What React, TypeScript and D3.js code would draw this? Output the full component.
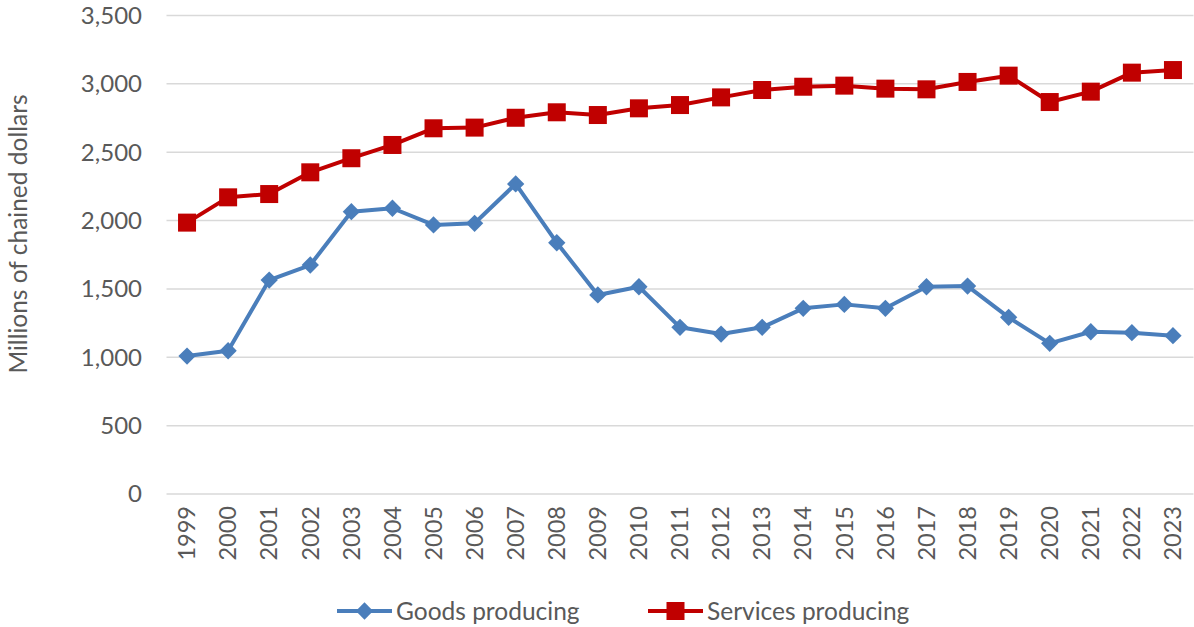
import * as d3 from 'd3';
import React, { useRef, useEffect } from 'react';

const years = ['1999', '2000', '2001', '2002', '2003', '2004', '2005', '2006', '2007', '2008', '2009', '2010',
    '2011', '2012', '2013', '2014', '2015', '2016', '2017', '2018', '2019', '2020', '2021', '2022', '2023'];

const goods = [1009, 1048, 1565, 1675, 2065, 2090, 1968, 1980, 2268, 1838, 1456, 1516,
    1219, 1170, 1219, 1358, 1387, 1358, 1516, 1521, 1292, 1102, 1187, 1180, 1158];

const services = [1985, 2170, 2194, 2353, 2456, 2553, 2675, 2680, 2752, 2792, 2772, 2821,
    2845, 2901, 2955, 2979, 2987, 2965, 2960, 3014, 3060, 2867, 2943, 3082, 3101];

const yTicks = [0, 500, 1000, 1500, 2000, 2500, 3000, 3500];

const seriesNames = ['Goods producing', 'Services producing'];

const FONT = 'Lato, "Open Sans", sans-serif';
const TEXT = '#595959';

function App() {

    const ref = useRef(null);

    useEffect(() => {
        const width = 1194, height = 627;
        const left = 166.5, right = 1193.5, top = 15.5, bottom = 494;

        const container = d3.select(ref.current);
        container.selectAll('*').remove();

        const svg = container.append('svg')
            .attr('width', width)
            .attr('height', height)
            .style('display', 'block')
            .style('font-family', FONT);

        const x = d3.scaleBand()
            .domain(years)
            .range([left, right]);

        const y = d3.scaleLinear()
            .domain([0, 3500])
            .range([bottom, top]);

        // gridlines
        svg.append('g')
            .selectAll('line')
            .data(yTicks)
            .enter()
            .append('line')
            .attr('x1', left)
            .attr('x2', right)
            .attr('y1', d => y(d))
            .attr('y2', d => y(d))
            .attr('stroke', '#d9d9d9')
            .attr('stroke-width', 1.5);

        // y tick labels
        svg.append('g')
            .selectAll('text')
            .data(yTicks)
            .enter()
            .append('text')
            .attr('x', 142)
            .attr('y', d => y(d))
            .attr('dy', '0.35em')
            .attr('text-anchor', 'end')
            .attr('fill', TEXT)
            .style('font-size', '24px')
            .text(d => d3.format(',')(d));

        // x tick labels (rotated)
        svg.append('g')
            .selectAll('text')
            .data(years)
            .enter()
            .append('text')
            .attr('transform', d => `translate(${x(d) + x.bandwidth() / 2},506) rotate(-90)`)
            .attr('dy', '0.35em')
            .attr('text-anchor', 'end')
            .attr('fill', TEXT)
            .style('font-size', '23.5px')
            .text(d => d);

        // axis title
        svg.append('text')
            .attr('transform', 'translate(18,234) rotate(-90)')
            .attr('dy', '0.35em')
            .attr('text-anchor', 'middle')
            .attr('fill', TEXT)
            .style('font-size', '24.5px')
            .text('Millions of chained dollars');

        const cx = (d, i) => x(years[i]) + x.bandwidth() / 2;

        const line = d3.line()
            .x(cx)
            .y(d => y(d));

        const blue = '#4a7ebb';
        const red = '#c00000';

        svg.append('path')
            .datum(goods)
            .attr('fill', 'none')
            .attr('stroke', blue)
            .attr('stroke-width', 4)
            .attr('stroke-linejoin', 'round')
            .attr('d', line);

        svg.append('path')
            .datum(services)
            .attr('fill', 'none')
            .attr('stroke', red)
            .attr('stroke-width', 4)
            .attr('stroke-linejoin', 'round')
            .attr('d', line);

        const diamond = d3.symbol().type(d3.symbolSquare).size(150);

        svg.append('g')
            .selectAll('path')
            .data(goods)
            .enter()
            .append('path')
            .attr('d', diamond)
            .attr('transform', (d, i) => `translate(${cx(d, i)},${y(d)}) rotate(45)`)
            .attr('fill', blue);

        svg.append('g')
            .selectAll('rect')
            .data(services)
            .enter()
            .append('rect')
            .attr('x', (d, i) => cx(d, i) - 9)
            .attr('y', d => y(d) - 9)
            .attr('width', 18)
            .attr('height', 18)
            .attr('fill', red);

        // legend
        const legend = svg.append('g').attr('transform', 'translate(0,611)');
        const items = [
            { name: seriesNames[0], color: blue, x0: 337, shape: 'diamond' },
            { name: seriesNames[1], color: red, x0: 648, shape: 'square' },
        ];
        items.forEach(it => {
            const g = legend.append('g').attr('transform', `translate(${it.x0},0)`);
            g.append('line')
                .attr('x1', 0).attr('x2', 55)
                .attr('stroke', it.color)
                .attr('stroke-width', 4);
            if (it.shape === 'diamond') {
                g.append('path')
                    .attr('d', diamond)
                    .attr('transform', 'translate(27.5,0) rotate(45)')
                    .attr('fill', it.color);
            } else {
                g.append('rect')
                    .attr('x', 18.5).attr('y', -9)
                    .attr('width', 18).attr('height', 18)
                    .attr('fill', it.color);
            }
            g.append('text')
                .attr('x', 59)
                .attr('dy', '0.35em')
                .attr('fill', TEXT)
                .style('font-size', '24.5px')
                .text(it.name);
        });

    }, []);

    return (
        <div ref={ref} style={{ position: 'absolute', left: 0, top: 0 }} />
    );
}

export default App;
